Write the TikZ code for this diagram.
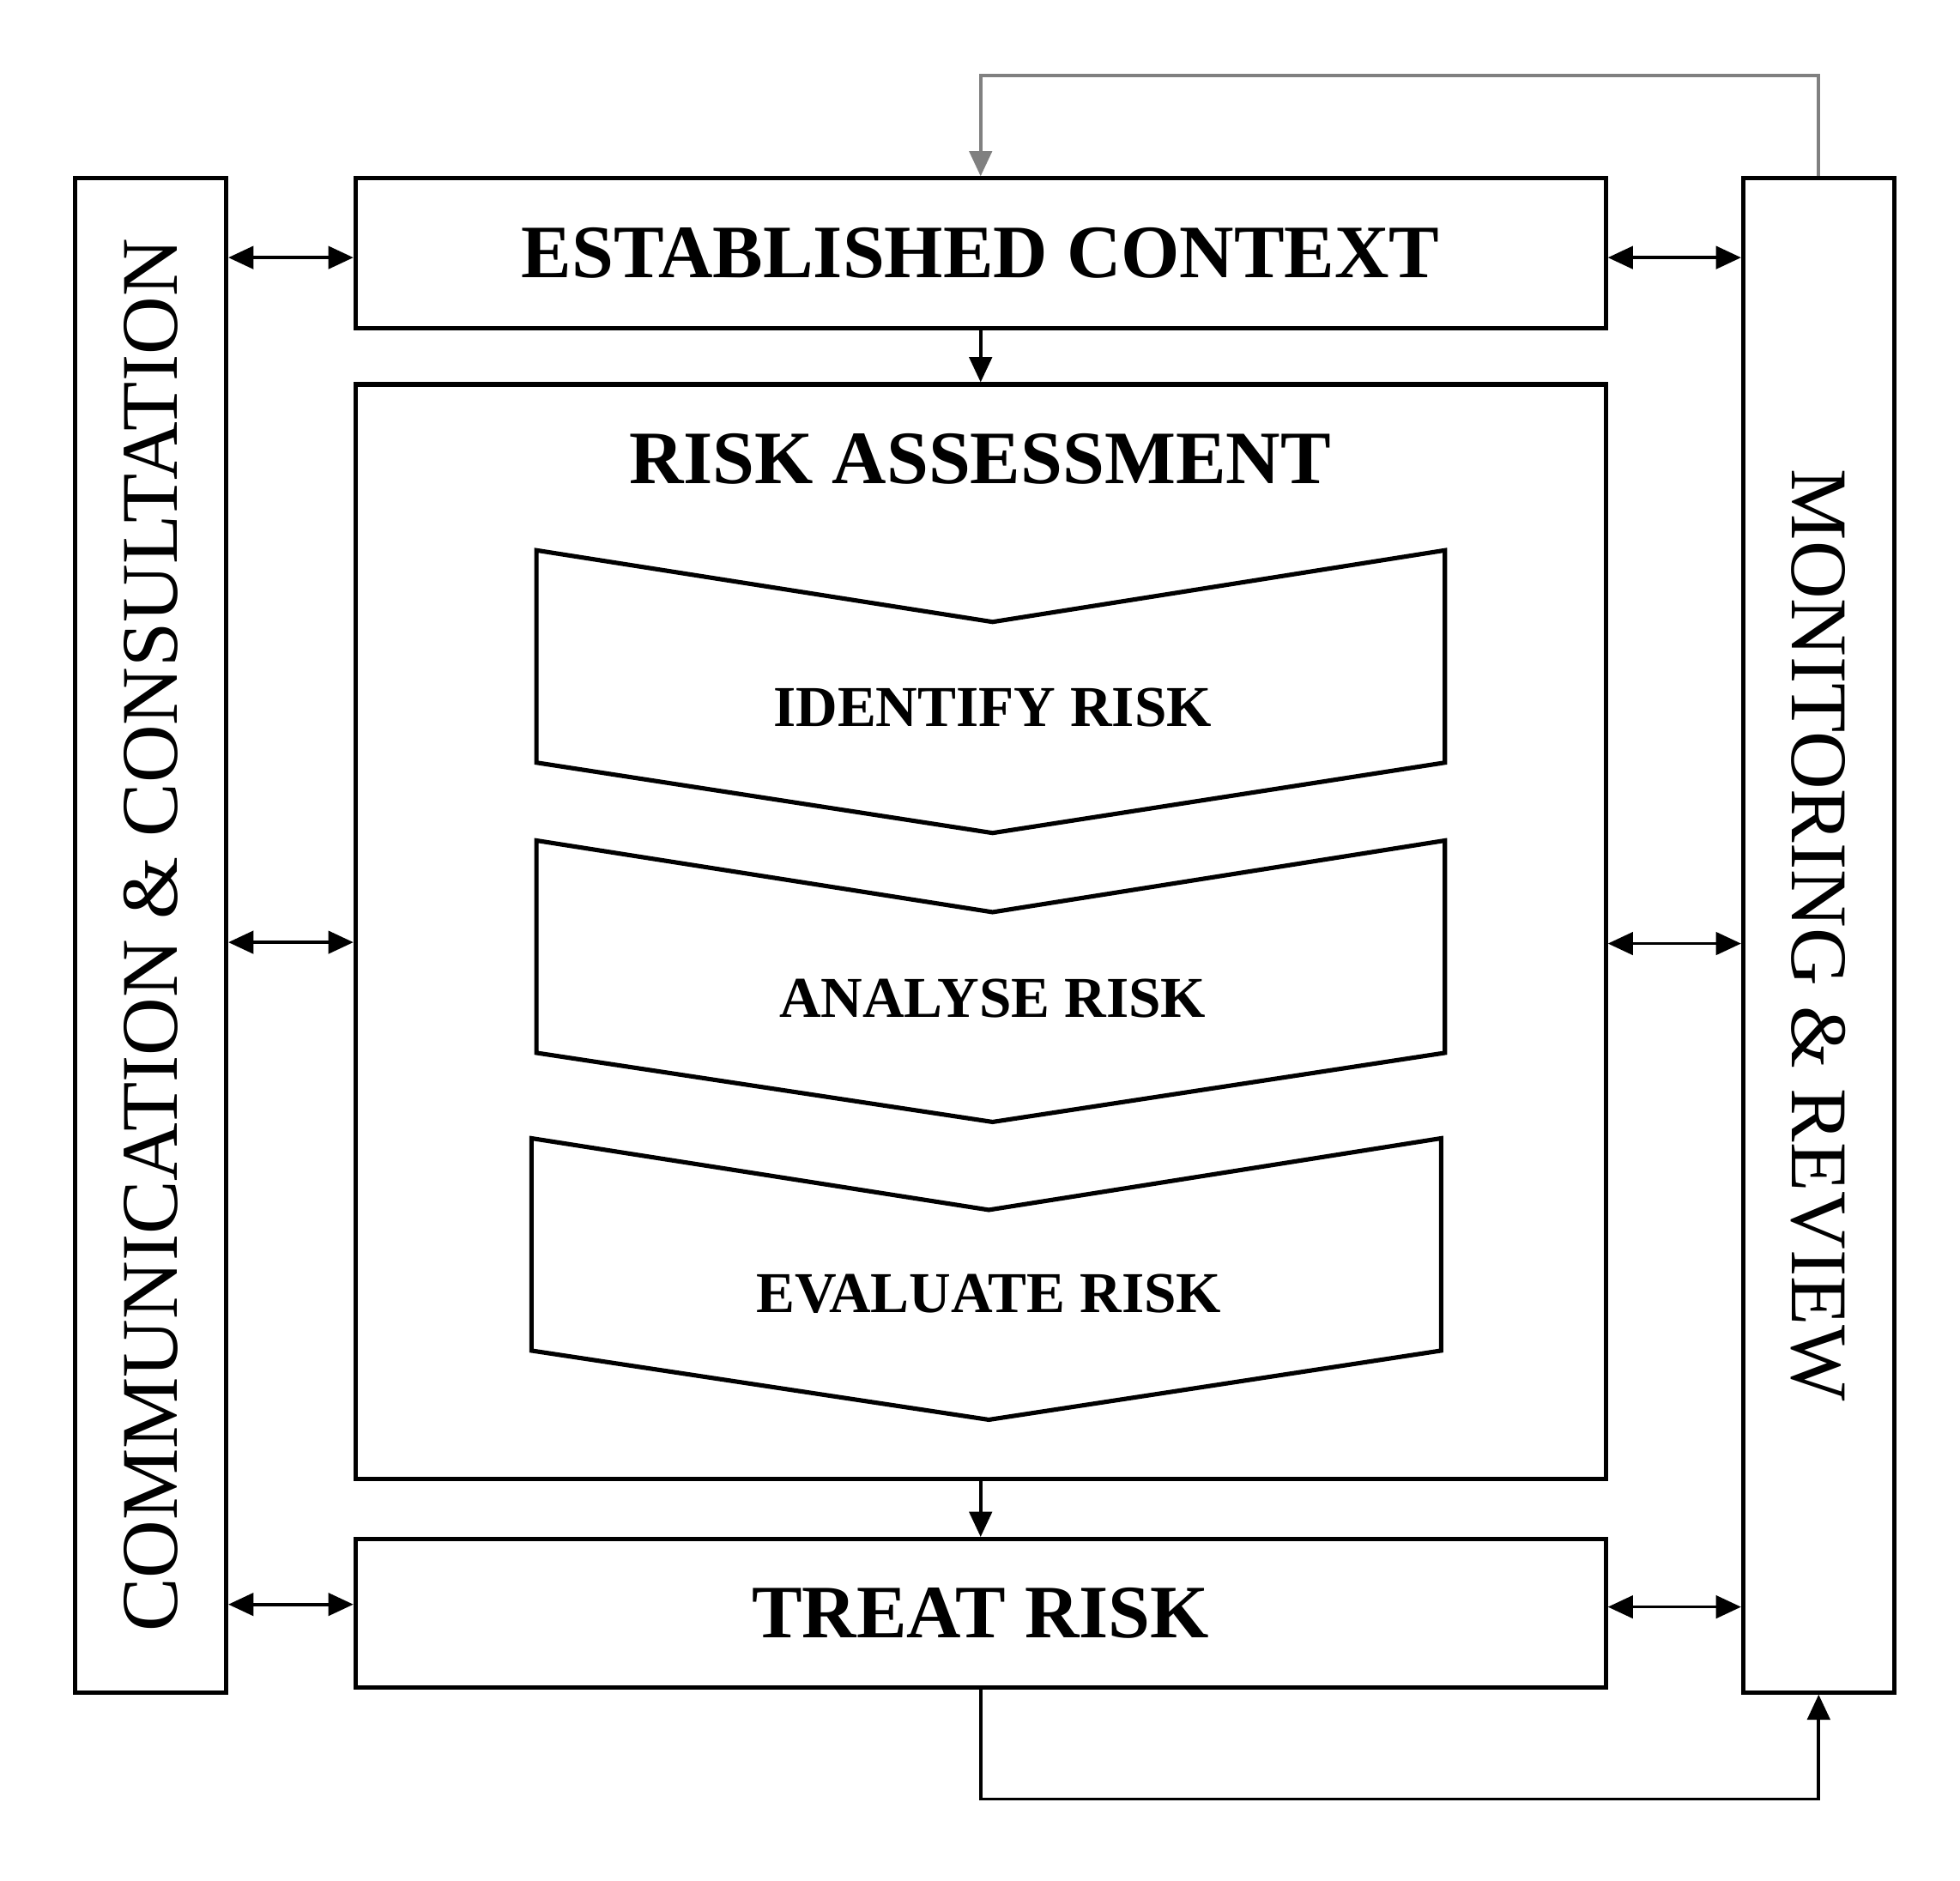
\documentclass[tikz,border=0pt]{standalone}
\usepackage{fontspec}
\setmainfont{Liberation Serif}
\usetikzlibrary{arrows.meta}
\begin{document}
\begin{tikzpicture}[x=1pt,y=-1pt,line width=3.5pt,
  box/.style={draw,line width=3.5pt},
  conn/.style={line width=2.5pt,-{Triangle[length=20pt,width=18pt]}},
  dbl/.style={line width=2.5pt,{Triangle[length=20pt,width=18pt]}-{Triangle[length=20pt,width=18pt]}},
  bt/.style={font=\fontsize{60}{66}\selectfont\bfseries},
  st/.style={font=\fontsize{46}{50}\selectfont\bfseries},
  vt/.style={font=\fontsize{64}{70}\selectfont}]
\useasboundingbox (0,0) rectangle (1560,1497);
\node[box,minimum width=120pt,minimum height=1205pt] (cc) at (120,744.5) {};
\node[vt,rotate=90] at (cc) {COMMUNICATION \& CONSULTATION};
\node[box,minimum width=120pt,minimum height=1205pt] (mr) at (1447.5,744.5) {};
\node[vt,rotate=-90] at (mr) {MONITORING \& REVIEW};
\node[box,minimum width=995pt,minimum height=119pt] (ec) at (780.5,201.5) {};
\node[bt] at (ec) {ESTABLISHED CONTEXT};
\node[box,minimum width=995pt,minimum height=871pt] (ra) at (780.5,741.5) {};
\node[bt] (rat) at (780,365) {RISK ASSESSMENT};
\node[box,minimum width=995pt,minimum height=118pt] (tr) at (780.5,1284) {};
\node[bt] at (tr) {TREAT RISK};
% chevrons
\draw (427,438) -- (790,495) -- (1150,438) -- (1150,607) -- (790,663) -- (427,607) -- cycle;
\node[st] (id) at (790,563) {IDENTIFY RISK};
\draw (427,669) -- (790,726) -- (1150,669) -- (1150,838) -- (790,893) -- (427,838) -- cycle;
\node[st] (an) at (790,795) {ANALYSE RISK};
\draw (423,906) -- (787,963) -- (1147,906) -- (1147,1075) -- (787,1130) -- (423,1075) -- cycle;
\node[st] (ev) at (787,1030) {EVALUATE RISK};
% connectors
\draw[conn] (ec.south) -- (ra.north);
\draw[conn] (ra.south) -- (tr.north);
\draw[conn,draw=gray] (mr.north) |- (780.5,60) -- (ec.north);
\draw[conn] (tr.south) |- (1447.5,1432) -- (mr.south);
\draw[dbl] (cc.east |- 0,205) -- (ec.west |- 0,205);
\draw[dbl] (cc.east |- 0,750) -- (ra.west |- 0,750);
\draw[dbl] (cc.east |- 0,1277) -- (tr.west |- 0,1277);
\draw[dbl] (ec.east |- 0,205) -- (mr.west |- 0,205);
\draw[dbl] (ra.east |- 0,751) -- (mr.west |- 0,751);
\draw[dbl] (tr.east |- 0,1279) -- (mr.west |- 0,1279);
\end{tikzpicture}
\end{document}
